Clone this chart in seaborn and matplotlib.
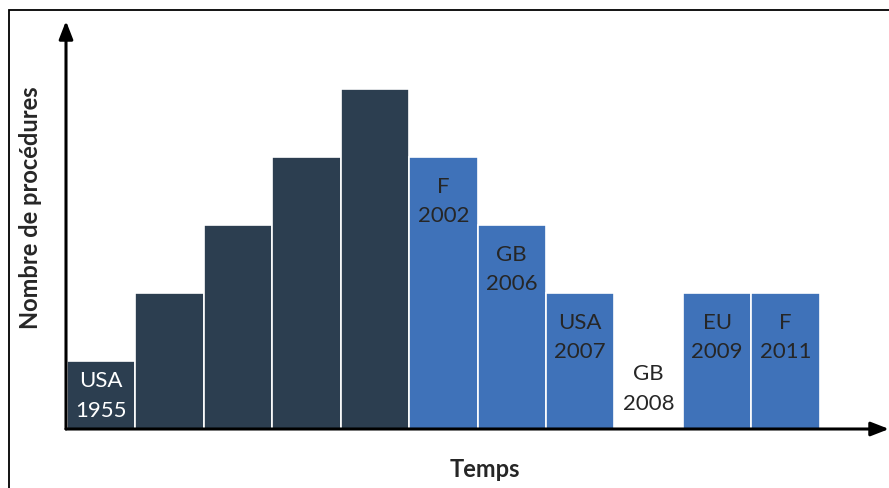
import matplotlib
matplotlib.use("Agg")
import matplotlib.pyplot as plt
from matplotlib.patches import Rectangle
import seaborn as sns
import pandas as pd

# Procedures over time: one column per period, labelled by country and year
heights = [1, 2, 3, 4, 5, 4, 3, 2, 0, 2, 2]
labels = ["USA\n1955", "", "", "", "", "F\n2002", "GB\n2006",
          "USA\n2007", "GB\n2008", "EU\n2009", "F\n2011"]
groups = ["early"] * 5 + ["recent"] * 6

df = pd.DataFrame({"pos": range(len(heights)), "n": heights, "group": groups})

sns.set_theme(style="white")
plt.rcParams["font.family"] = ["Lato", "DejaVu Sans"]

fig = plt.figure(figsize=(8.89, 4.89), dpi=100)
ax = fig.add_axes([66 / 889, 59 / 489, 823 / 889, 408 / 489])

palette = {"early": "#2c3e50", "recent": "#3f72b9"}
sns.barplot(data=df, x="pos", y="n", hue="group", palette=palette,
            dodge=False, width=1.0, native_scale=True, legend=False,
            edgecolor="white", linewidth=1.2, saturation=1, ax=ax)

ax.set_xlim(-0.51, 11.51)
ax.set_ylim(0, 6.0)
ax.set_xticks([])
ax.set_yticks([])
for s in ax.spines.values():
    s.set_visible(False)
ax.set_xlabel("")
ax.set_ylabel("")

# Labels sit inside the top of each column; short columns get them centred,
# an empty column carries its label just above the axis
for i, (h, lab, g) in enumerate(zip(heights, labels, groups)):
    if not lab:
        continue
    color = "white" if g == "early" else "#262626"
    yc = max(h - 0.64, 0.5) if h > 0 else 0.6
    ax.text(i, yc, lab, ha="center", va="center", fontsize=16,
            color=color, linespacing=1.6)

# Arrowed axes
arrow = dict(arrowstyle="-|>,head_length=0.9,head_width=0.35", color="black",
             lw=2.2, shrinkA=0, shrinkB=0)
ax.annotate("", xy=(1.0, 0), xytext=(0, 0), xycoords="axes fraction",
            arrowprops=arrow, annotation_clip=False)
ax.annotate("", xy=(0, 1.0), xytext=(0, 0), xycoords="axes fraction",
            arrowprops=arrow, annotation_clip=False)

fig.text(485 / 889, 1 - 470 / 489, "Temps", ha="center", va="center",
         fontsize=17, fontweight="bold")
fig.text(31 / 889, 1 - 208 / 489, "Nombre de procédures", ha="center",
         va="center", rotation=90, fontsize=17, fontweight="bold")

# Frame around the figure
fig.patches.append(Rectangle((9 / 889, -0.1), 1.2, 1 - 11 / 489 + 0.1,
                             transform=fig.transFigure, fill=False,
                             edgecolor="black", linewidth=1.3))

fig.savefig("out.png", dpi=100)
